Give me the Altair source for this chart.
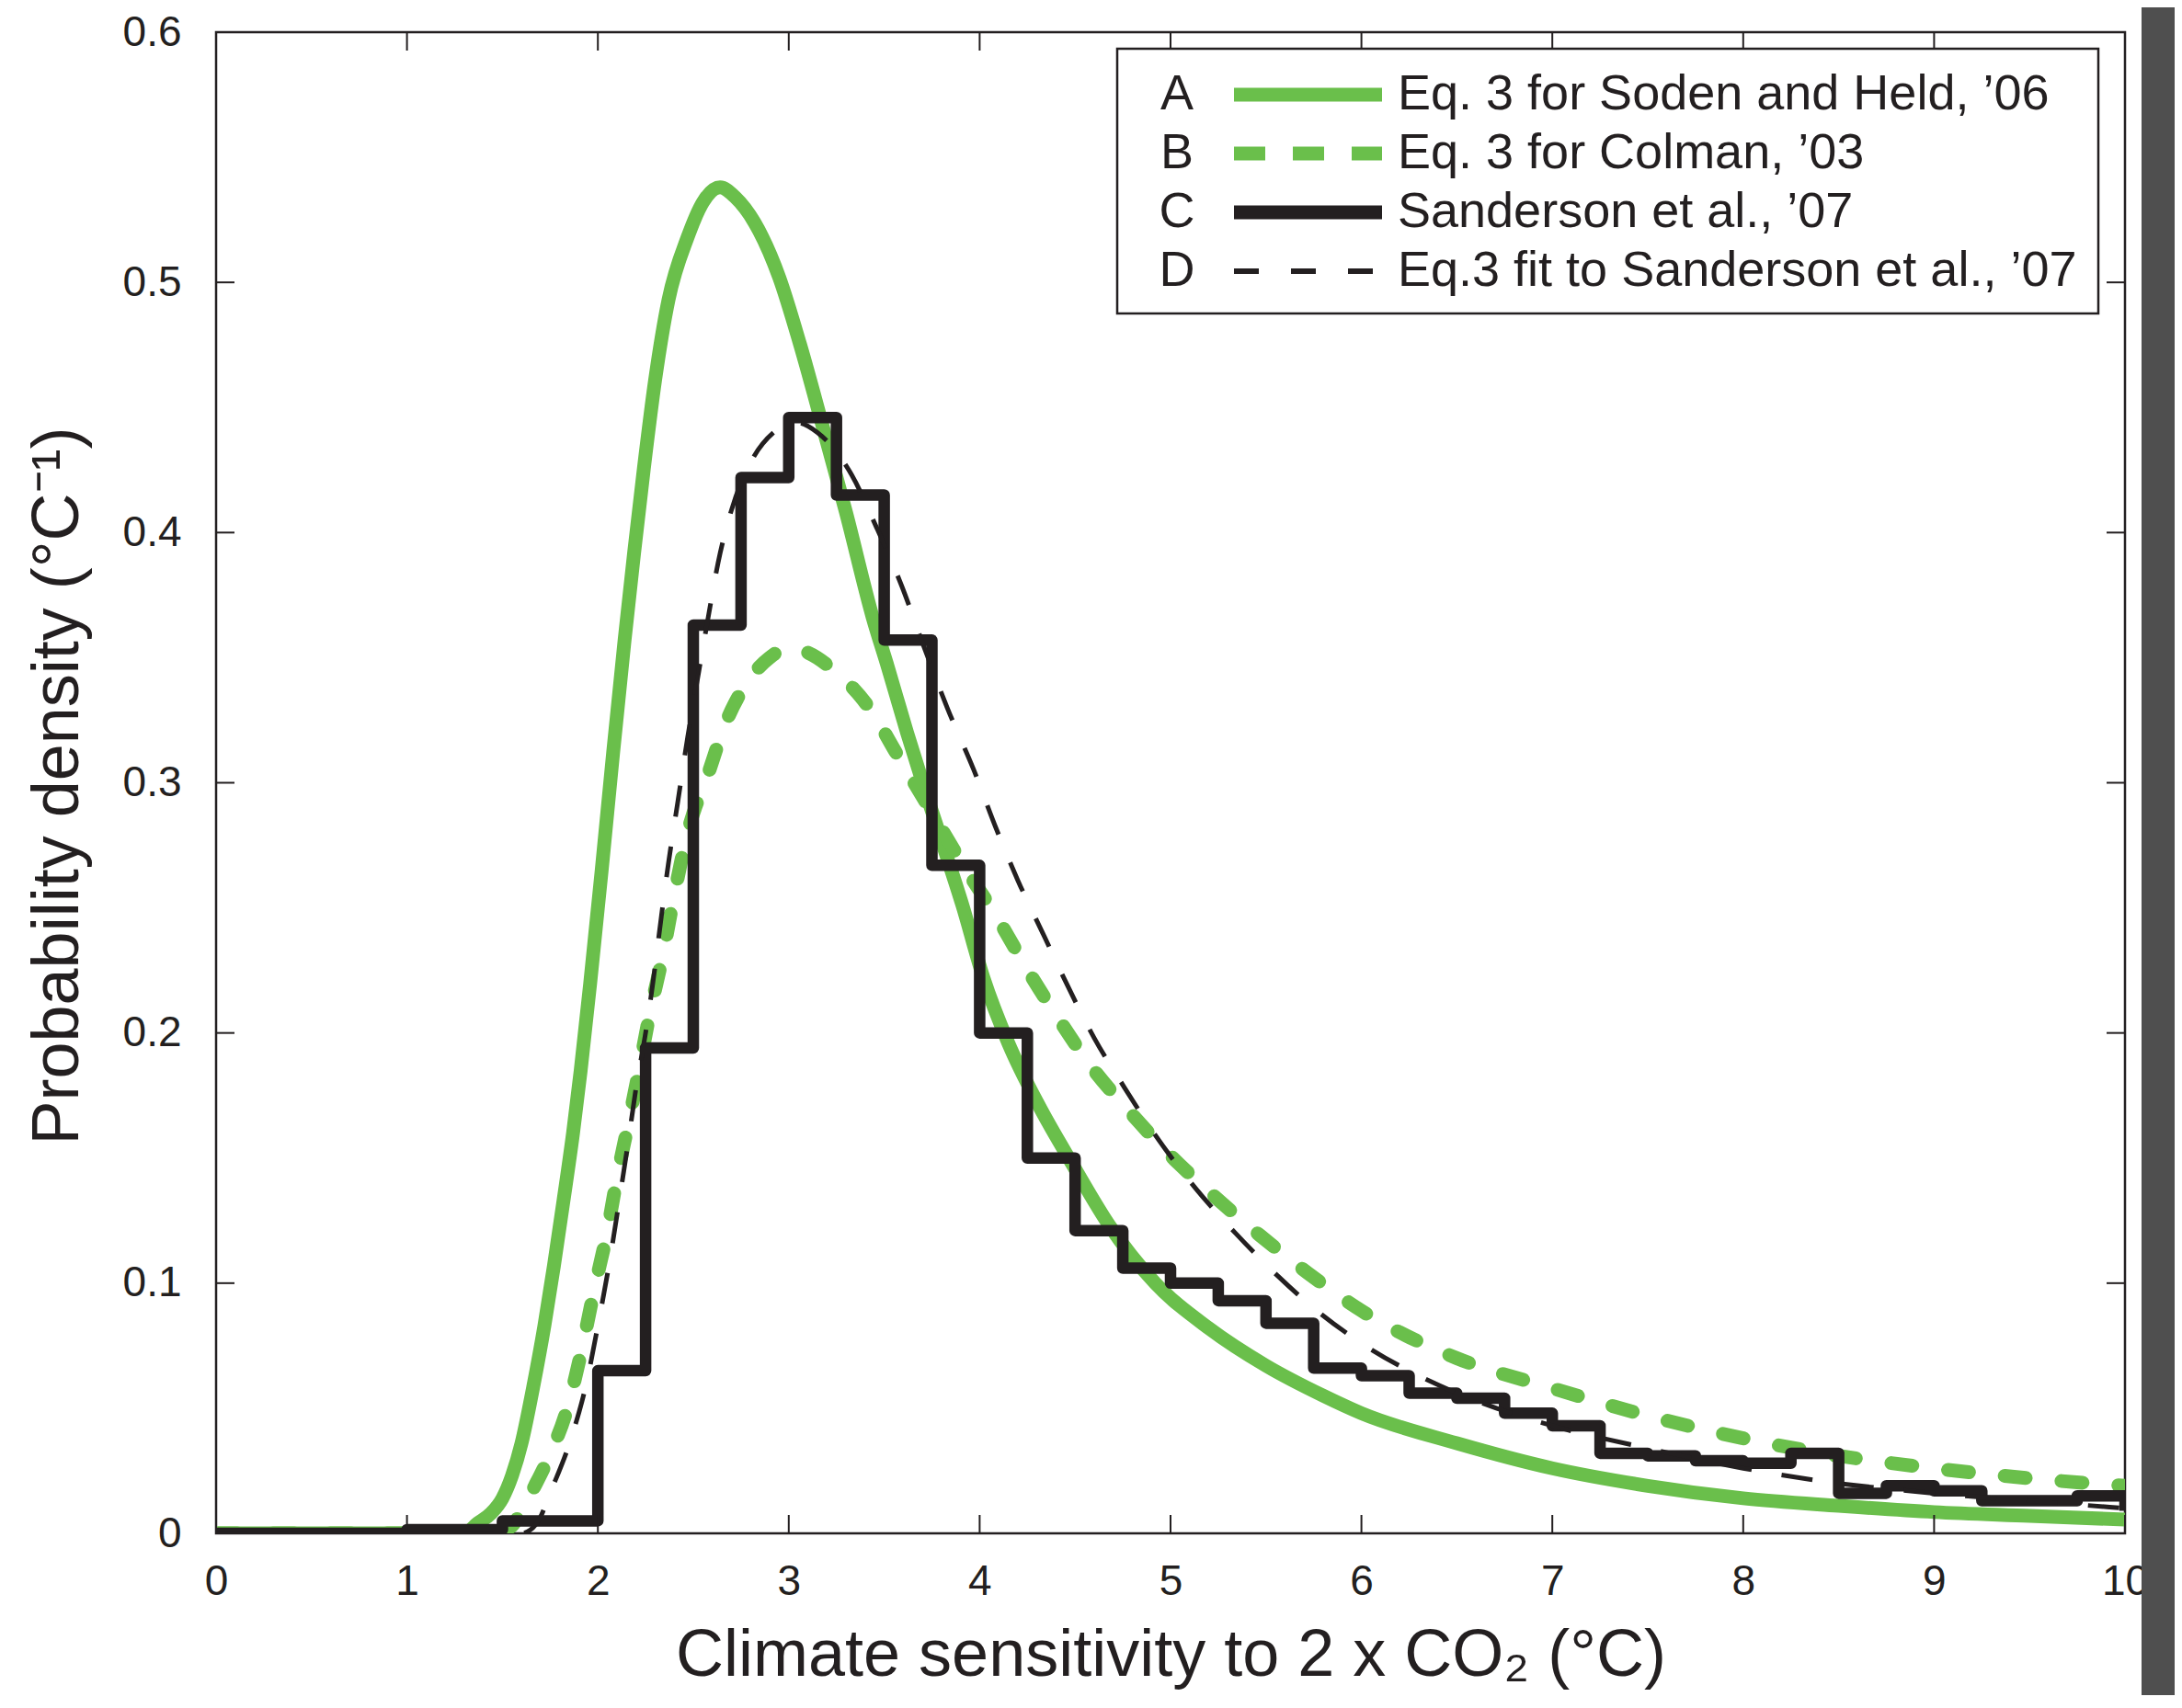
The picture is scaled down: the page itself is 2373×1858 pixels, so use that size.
import altair as alt
import pandas as pd

FONT = "Liberation Sans, Arial, Helvetica, sans-serif"
GREEN = "#6abf4b"
BLACK = "#231f20"
W, H = 2076, 1633

# ---- data ----
# A: Eq. 3 for Soden and Held, '06 (solid green)
a_x = [0, 1.0, 1.3, 1.37, 1.44, 1.5, 1.55, 1.6, 1.66, 1.72, 1.77, 1.82, 1.87, 1.91, 1.96,
       2.02, 2.08, 2.14, 2.19, 2.24, 2.30, 2.37, 2.47, 2.55, 2.64, 2.72, 2.82, 2.95, 3.06,
       3.19, 3.30, 3.44, 3.52, 3.62, 3.71, 3.80, 3.91, 4.02, 4.15, 4.31, 4.49, 4.68, 4.92,
       5.2, 5.5, 5.8, 6.0, 6.5, 7.0, 7.5, 8.0, 8.5, 9.0, 9.5, 10.0]
a_y = [0, 0, 0, 0.004, 0.008, 0.014, 0.023, 0.036, 0.058, 0.083, 0.107, 0.133, 0.160, 0.185, 0.220,
       0.265, 0.312, 0.357, 0.392, 0.425, 0.461, 0.493, 0.518, 0.532, 0.538, 0.534, 0.524, 0.502, 0.475,
       0.439, 0.408, 0.366, 0.346, 0.320, 0.298, 0.277, 0.251, 0.222, 0.196, 0.171, 0.147, 0.123, 0.100,
       0.082, 0.067, 0.055, 0.048, 0.036, 0.026, 0.019, 0.014, 0.011, 0.0085, 0.007, 0.0055]

# B: Eq. 3 for Colman, '03 (dashed green)
b_x = [0, 1.45, 1.55, 1.6, 1.67, 1.74, 1.84, 1.92, 1.98, 2.05, 2.10, 2.16, 2.21, 2.27, 2.34,
       2.40, 2.47, 2.58, 2.66, 2.79, 2.90, 3.0, 3.1, 3.22, 3.43, 3.57, 3.72, 3.89, 4.10, 4.26,
       4.41, 4.58, 4.78, 5.0, 5.24, 5.47, 5.72, 6.0, 6.5, 7.0, 7.5, 8.0, 8.5, 9.0, 9.5, 10.0]
b_y = [0, 0, 0.003, 0.009, 0.019, 0.030, 0.050, 0.075, 0.097, 0.121, 0.142, 0.164, 0.183, 0.207, 0.231,
       0.255, 0.280, 0.304, 0.322, 0.341, 0.350, 0.354, 0.352, 0.346, 0.329, 0.311, 0.292, 0.270, 0.245, 0.224,
       0.206, 0.187, 0.169, 0.151, 0.134, 0.119, 0.104, 0.089, 0.070, 0.058, 0.047, 0.038, 0.031, 0.026, 0.022, 0.019]

# C: Sanderson et al., '07 (histogram, bins of 0.25)
c_edges = [0, 0.25, 0.5, 0.75, 1.0, 1.25, 1.5, 1.75, 2.0, 2.25, 2.5, 2.75, 3.0, 3.25, 3.5, 3.75,
           4.0, 4.25, 4.5, 4.75, 5.0, 5.25, 5.5, 5.75, 6.0, 6.25, 6.5, 6.75, 7.0, 7.25, 7.5, 7.75,
           8.0, 8.25, 8.5, 8.75, 9.0, 9.25, 9.5, 9.75, 10.0]
c_vals = [0, 0, 0, 0, 0.0015, 0.0015, 0.005, 0.005, 0.065, 0.194, 0.363, 0.422, 0.446, 0.415, 0.357, 0.267,
          0.200, 0.150, 0.121, 0.106, 0.100, 0.093, 0.084, 0.066, 0.063, 0.056, 0.054, 0.048, 0.043, 0.032, 0.031, 0.029,
          0.028, 0.032, 0.016, 0.019, 0.017, 0.013, 0.013, 0.015, 0.009]

# D: Eq.3 fit to Sanderson et al., '07 (thin black dashed)
d_x = [0, 1.6, 1.68, 1.76, 1.86, 1.94, 2.0, 2.06, 2.11, 2.16, 2.20, 2.25, 2.29, 2.33, 2.37, 2.42,
       2.47, 2.53, 2.58, 2.63, 2.70, 2.80, 2.92, 3.04, 3.15, 3.33, 3.46, 3.59, 3.71, 3.83, 3.97,
       4.085, 4.20, 4.33, 4.46, 4.60, 4.76, 4.94, 5.13, 5.34, 5.56, 5.75, 6.0, 6.3, 6.6, 7.0,
       7.5, 8.0, 8.4, 9.0, 9.5, 10.0]
d_y = [0, 0, 0.004, 0.018, 0.038, 0.060, 0.083, 0.108, 0.132, 0.157, 0.178, 0.200, 0.221, 0.245, 0.268, 0.293,
       0.318, 0.345, 0.367, 0.388, 0.409, 0.428, 0.440, 0.444, 0.440, 0.423, 0.402, 0.379, 0.354, 0.330, 0.305,
       0.282, 0.261, 0.240, 0.219, 0.198, 0.178, 0.157, 0.138, 0.120, 0.103, 0.090, 0.076, 0.063, 0.053, 0.043,
       0.034, 0.026, 0.021, 0.016, 0.013, 0.010]

x_ticks = [0, 1, 2, 3, 4, 5, 6, 7, 8, 9, 10]
y_ticks = [0, 0.1, 0.2, 0.3, 0.4, 0.5, 0.6]

legend_letters = ["A", "B", "C", "D"]
legend_labels = ["Eq. 3 for Soden and Held, \u201906",
                 "Eq. 3 for Colman, \u201903",
                 "Sanderson et al., \u201907",
                 "Eq.3 fit to Sanderson et al., \u201907"]

x_title = "Climate sensitivity to 2 x CO\u2082 (\u00b0C)"
y_title = "Probability density (\u00b0C\u207b\u00b9)"

# ---- scales / axes ----
xs = alt.Scale(domain=[0, 10], nice=False, zero=False)
ys = alt.Scale(domain=[0, 0.6], nice=False, zero=False)

x_axis = alt.Axis(values=x_ticks, format="d", labelFont=FONT, labelFontSize=46, labelColor=BLACK,
                  labelPadding=30, labelFlush=False, ticks=False, domain=False, grid=False,
                  title=x_title, titleFont=FONT, titleFontSize=72, titleFontWeight="normal",
                  titleColor=BLACK, titleBaseline="alphabetic", titleX=W / 2, titleY=154)
y_axis = alt.Axis(values=y_ticks, format=".1~f", labelFont=FONT, labelFontSize=46, labelColor=BLACK,
                  labelPadding=38, labelFlush=False, ticks=False, domain=False, grid=False,
                  title=y_title, titleFont=FONT, titleFontSize=72, titleFontWeight="normal",
                  titleColor=BLACK, titleBaseline="alphabetic", titleAngle=270, titleX=-151, titleY=H / 2 + 3)


def X(field):
    return alt.X(field, scale=xs, axis=x_axis)


def Y(field):
    return alt.Y(field, scale=ys, axis=y_axis)


def curve(xv, yv):
    return pd.DataFrame({"x": xv, "y": yv})


layer_a = alt.Chart(curve(a_x, a_y)).mark_line(
    color=GREEN, strokeWidth=15, strokeCap="round", strokeJoin="round",
    interpolate="monotone", clip=True
).encode(x=X("x:Q"), y=Y("y:Q"))

layer_b = alt.Chart(curve(b_x, b_y)).mark_line(
    color=GREEN, strokeWidth=15, strokeDash=[23, 39], strokeCap="round", strokeJoin="round",
    interpolate="monotone", clip=True
).encode(x=X("x:Q"), y=Y("y:Q"))

layer_c = alt.Chart(curve(c_edges, c_vals)).mark_line(
    color=BLACK, strokeWidth=12.5, interpolate="step-after", strokeJoin="round", clip=True
).encode(x=X("x:Q"), y=Y("y:Q"))

layer_d = alt.Chart(curve(d_x, d_y)).mark_line(
    color=BLACK, strokeWidth=5, strokeDash=[34, 33], interpolate="monotone", clip=True
).encode(x=X("x:Q"), y=Y("y:Q"))

# inward ticks on all four sides
xt = pd.DataFrame({"t": x_ticks})
yt = pd.DataFrame({"t": y_ticks})
TL = 20
tick_kw = dict(color=BLACK, strokeWidth=2)
ticks_bottom = alt.Chart(xt).mark_rule(**tick_kw).encode(
    x=X("t:Q"), y=alt.value(H), y2=alt.value(H - TL))
ticks_top = alt.Chart(xt).mark_rule(**tick_kw).encode(
    x=X("t:Q"), y=alt.value(0), y2=alt.value(TL))
ticks_left = alt.Chart(yt).mark_rule(**tick_kw).encode(
    y=Y("t:Q"), x=alt.value(0), x2=alt.value(TL))
ticks_right = alt.Chart(yt).mark_rule(**tick_kw).encode(
    y=Y("t:Q"), x=alt.value(W), x2=alt.value(W - TL))

# legend (drawn by hand, MATLAB style)
one = pd.DataFrame({"k": [0]})
leg_box = alt.Chart(one).mark_rect(fill="white", stroke=BLACK, strokeWidth=2.5).encode(
    x=alt.value(980), x2=alt.value(2047), y=alt.value(18), y2=alt.value(306))

leg_df = pd.DataFrame({"row": [0, 1, 2, 3], "letter": legend_letters, "label": legend_labels})
leg_styles = [(GREEN, 15, None), (GREEN, 15, [34, 30]), (BLACK, 15, None), (BLACK, 6, [27, 35])]

leg_layers = []
for i, (col, wid, dash) in enumerate(leg_styles):
    ypx = 68 + 64 * i
    sub = alt.Chart(leg_df).transform_filter(f"datum.row == {i}")
    leg_layers.append(sub.mark_text(font=FONT, fontSize=54, color=BLACK, align="center",
                                    baseline="middle").encode(
        text="letter:N", x=alt.value(1045), y=alt.value(ypx)))
    leg_layers.append(sub.mark_text(font=FONT, fontSize=54, color=BLACK, align="left",
                                    baseline="middle").encode(
        text="label:N", x=alt.value(1285), y=alt.value(ypx)))
    kw = dict(color=col, strokeWidth=wid, strokeCap="butt")
    if dash:
        kw["strokeDash"] = dash
    leg_layers.append(alt.Chart(one).mark_rule(**kw).encode(
        x=alt.value(1107), x2=alt.value(1268), y=alt.value(ypx)))

# dark border strip at the right edge of the picture
band = alt.Chart(one).mark_rect(color="#4f4f4f").encode(
    x=alt.value(2094), x2=alt.value(2140), y=alt.value(-40), y2=alt.value(1840))

chart = alt.layer(
    layer_a, layer_b, layer_c, layer_d,
    ticks_bottom, ticks_top, ticks_left, ticks_right,
    leg_box, *leg_layers, band
).properties(
    width=W, height=H,
    autosize=alt.AutoSizeParams(type="none"),
    padding={"left": 227, "top": 27, "right": 54, "bottom": 176},
    background="white",
).configure_view(stroke=BLACK, strokeWidth=2.5)

chart.save("out.html", embed_options={"renderer": "svg", "actions": False})
